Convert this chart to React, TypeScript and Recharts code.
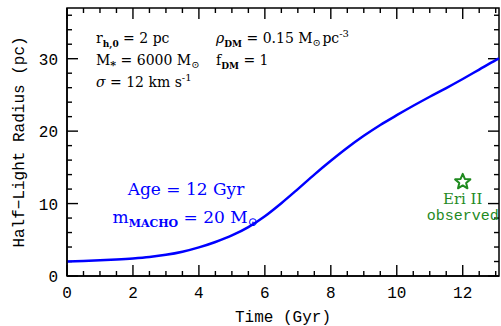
import { Line, LineChart, ReferenceArea, ReferenceDot, ReferenceLine, XAxis, YAxis } from 'recharts'

// model track: half-light radius vs time
const times = [0, 0.5, 1, 1.5, 2, 2.5, 3, 3.5, 4, 4.5, 5, 5.5, 6, 6.5, 7, 7.5, 8, 8.5, 9, 9.5, 10, 10.5, 11, 11.5, 12, 12.5, 13, 13.1]
const radius = [2.0, 2.07, 2.16, 2.28, 2.43, 2.63, 2.92, 3.35, 3.95, 4.7, 5.6, 6.75, 8.25, 10.05, 12.0, 14.0, 15.9, 17.7, 19.35, 20.85, 22.2, 23.5, 24.75, 25.95, 27.2, 28.5, 29.8, 30.05]

// Eri II observed point
const eriTime = 12
const eriRadius = 13

const xTicks = [0, 0.5, 1, 1.5, 2, 2.5, 3, 3.5, 4, 4.5, 5, 5.5, 6, 6.5, 7, 7.5, 8, 8.5, 9, 9.5, 10, 10.5, 11, 11.5, 12, 12.5, 13]
const yTicks = [0, 2, 4, 6, 8, 10, 12, 14, 16, 18, 20, 22, 24, 26, 28, 30, 32, 34, 36]
const xMax = 13.1
const yMax = 37

const track = times.map((t, i) => ({ t, r: radius[i] }))

const W = 501
const H = 326
const M = { top: 8, right: 2, bottom: 0, left: 0 }
const X_AXIS_H = 50
const Y_AXIS_W = 67
const PLOT_W = W - M.left - M.right - Y_AXIS_W
const PLOT_H = H - M.top - M.bottom - X_AXIS_H
// tick lengths (px) turned into data units so the scales place them
const X_PER_PX = xMax / PLOT_W
const Y_PER_PX = yMax / PLOT_H
const MAJOR = 11
const MINOR = 5

const MONO = '"Liberation Mono", monospace'
const SERIF = '"DejaVu Serif", serif'

const BottomLabel = (props: any) => {
  const { x, y, payload } = props
  const v = Number(payload.value)
  if (v % 2 !== 0) return <g />
  return (
    <text x={x} y={y + 22} textAnchor="middle" fill="#000" fontSize={16} fontFamily={MONO}>
      {v}
    </text>
  )
}

const LeftLabel = (props: any) => {
  const { x, y, payload } = props
  const v = Number(payload.value)
  if (v % 10 !== 0) return <g />
  return (
    <text x={x - 9} y={y + 6} textAnchor="end" fill="#000" fontSize={16} fontFamily={MONO}>
      {v}
    </text>
  )
}

function Star(props: any) {
  const { cx, cy } = props
  const pts: string[] = []
  for (let i = 0; i < 10; i++) {
    const rr = i % 2 === 0 ? 8 : 3.6
    const a = -Math.PI / 2 + (i * Math.PI) / 5
    pts.push(`${cx + rr * Math.cos(a)},${cy + rr * Math.sin(a)}`)
  }
  return (
    <g>
      <polygon points={pts.join(' ')} fill="none" stroke="#1f8a1f" strokeWidth={2} strokeLinejoin="round" />
      <text x={cx} y={cy + 22} textAnchor="middle" fill="#1f8a1f" fontSize={15} fontFamily={SERIF}>
        Eri II
      </text>
      <text x={cx} y={cy + 38} textAnchor="middle" fill="#1f8a1f" fontSize={15} fontFamily={MONO}>
        observed
      </text>
    </g>
  )
}

const sub = (s: string, size = 9) => (
  <>
    <tspan dy={4} fontSize={size} fontWeight="bold">{s}</tspan>
    <tspan dy={-4}> </tspan>
  </>
)
const sup = (s: string) => (
  <>
    <tspan dy={-6} fontSize={10}>{s}</tspan>
    <tspan dy={6}>{'\u200a'}</tspan>
  </>
)
const sun = (size = 10) => (
  <>
    <tspan dy={3} fontSize={size}>⊙</tspan>
    <tspan dy={-3}>{'\u200a'}</tspan>
  </>
)

export default function App() {
  const tickStyle = { stroke: '#000', strokeWidth: 1.4 }
  return (
    <div style={{ position: 'relative', width: W, height: H }}>
      <style>{'body{margin:0}'}</style>
      <svg width={W} height={H} style={{ position: 'absolute', left: 0, top: 0 }}>
        <g fontFamily={SERIF} fontSize={14} fill="#000">
          <text x={96} y={43}>r{sub('h,0')}= 2 pc</text>
          <text x={216} y={43}>
            <tspan fontStyle="italic">ρ</tspan>{sub('DM')}= 0.15 M{sun()}pc{sup('-3')}
          </text>
          <text x={96} y={65}>M{sub('*', 11)}= 6000 M{sun()}</text>
          <text x={216} y={65}>f{sub('DM')}= 1</text>
          <text x={96} y={87}><tspan fontStyle="italic">σ</tspan> = 12 km s{sup('-1')}</text>
        </g>
        <g fontFamily={SERIF} fontSize={17} fill="#0000ff" textAnchor="middle">
          <text x={186} y={195}>Age = 12 Gyr</text>
          <text x={186} y={223}>m{sub('MACHO', 11)}= 20 M{sun(12)}</text>
        </g>
        <g fontFamily={MONO} fontSize={16} fill="#000" textAnchor="middle">
          <text x={283} y={322}>Time (Gyr)</text>
          <text transform="translate(24,142) rotate(-90)">Half−Light Radius (pc)</text>
        </g>
      </svg>
      <LineChart width={W} height={H} data={track} margin={M}>
        <XAxis
          dataKey="t"
          type="number"
          domain={[0, xMax]}
          ticks={xTicks}
          interval={0}
          height={X_AXIS_H}
          tickSize={0}
          tickMargin={0}
          tickLine={false}
          tick={BottomLabel}
          axisLine={{ stroke: '#000', strokeWidth: 1.5 }}
        />
        <YAxis
          type="number"
          domain={[0, yMax]}
          ticks={yTicks}
          interval={0}
          width={Y_AXIS_W}
          tickSize={0}
          tickMargin={0}
          tickLine={false}
          tick={LeftLabel}
          axisLine={{ stroke: '#000', strokeWidth: 1.5 }}
        />
        <ReferenceArea x1={0} x2={xMax} y1={0} y2={yMax} fill="none" stroke="#000" strokeWidth={1.5} ifOverflow="visible" />
        {xTicks.map((v) => {
          const len = (v % 2 === 0 ? MAJOR : MINOR) * Y_PER_PX
          return [
            <ReferenceLine key={`xb${v}`} segment={[{ x: v, y: 0 }, { x: v, y: len }]} {...tickStyle} ifOverflow="visible" />,
            <ReferenceLine key={`xt${v}`} segment={[{ x: v, y: yMax }, { x: v, y: yMax - len }]} {...tickStyle} ifOverflow="visible" />,
          ]
        })}
        {yTicks.map((v) => {
          const len = (v % 10 === 0 ? MAJOR : MINOR) * X_PER_PX
          return [
            <ReferenceLine key={`yl${v}`} segment={[{ x: 0, y: v }, { x: len, y: v }]} {...tickStyle} ifOverflow="visible" />,
            <ReferenceLine key={`yr${v}`} segment={[{ x: xMax, y: v }, { x: xMax - len, y: v }]} {...tickStyle} ifOverflow="visible" />,
          ]
        })}
        <Line
          type="monotone"
          dataKey="r"
          stroke="#0000ff"
          strokeWidth={2.5}
          dot={false}
          isAnimationActive={false}
        />
        <ReferenceDot x={eriTime} y={eriRadius} shape={Star} ifOverflow="visible" />
      </LineChart>
    </div>
  )
}
